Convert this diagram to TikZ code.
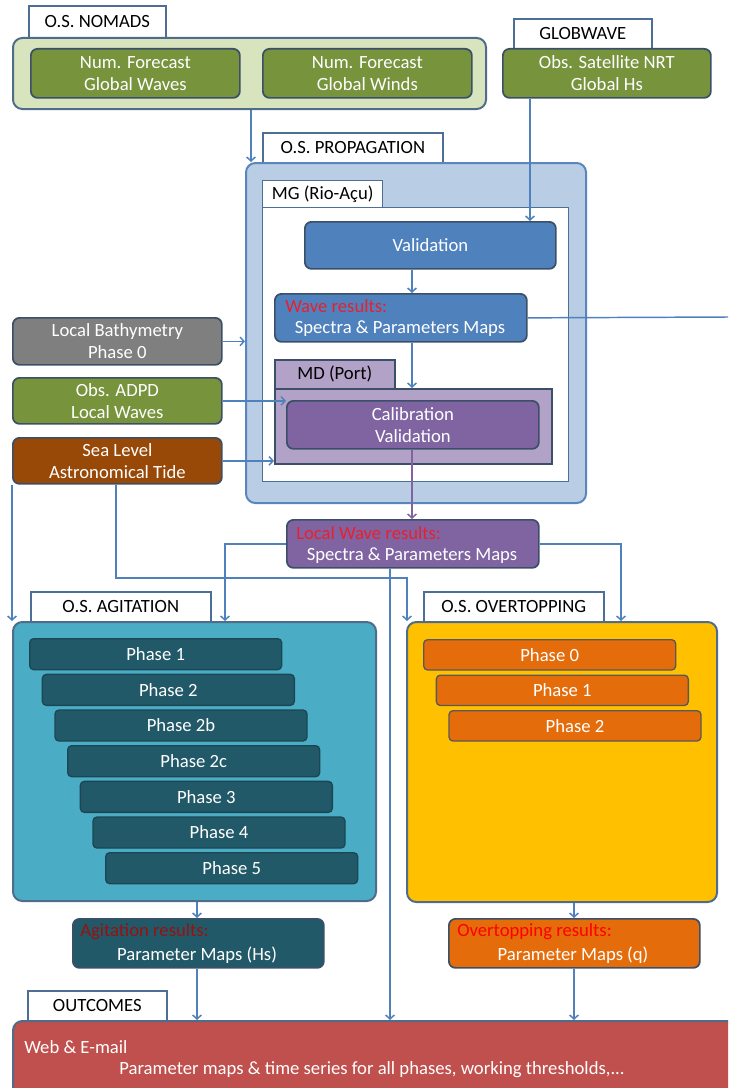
\documentclass[tikz,border=0pt]{standalone}
\usepackage{fontspec}
\setmainfont{Carlito}
\usetikzlibrary{arrows.meta}

\definecolor{nomadsbg}{HTML}{D7E4BD}
\definecolor{olive}{HTML}{77933C}
\definecolor{propbg}{HTML}{B9CDE5}
\definecolor{valblue}{HTML}{4F81BD}
\definecolor{mdbg}{HTML}{B3A2C7}
\definecolor{calpurple}{HTML}{8064A2}
\definecolor{bathygray}{HTML}{7F7F7F}
\definecolor{seabrown}{HTML}{984807}
\definecolor{agbg}{HTML}{4BACC6}
\definecolor{agphase}{HTML}{215968}
\definecolor{ovbg}{HTML}{FFC000}
\definecolor{ovphase}{HTML}{E46C0A}
\definecolor{outred}{HTML}{C0504D}
\definecolor{tabline}{HTML}{4E6F95}
\definecolor{contline}{HTML}{4F6D8A}
\definecolor{propline}{HTML}{5A85BD}
\definecolor{boxline}{HTML}{3B5068}
\definecolor{connblue}{HTML}{4F81BD}
\definecolor{labred}{HTML}{E8202E}
\definecolor{labdark}{HTML}{9A1010}

\tikzset{
  tab/.style={draw=tabline, line width=1.2pt, fill=white, text=black, inner sep=0pt},
  cont/.style={draw=contline, line width=1.5pt, rounded corners=7pt, inner sep=0pt},
  blk/.style={draw=boxline, line width=1.3pt, rounded corners=5pt, text=white,
              align=center, inner sep=0pt},
  phase/.style={blk, rounded corners=3pt, line width=1pt},
  conn/.style={draw=connblue, line width=1.1pt, -{Straight Barb[length=3pt,width=6.5pt]}},
  plain/.style={draw=connblue, line width=1.1pt},
  txt/.style={inner sep=0pt},
}

% box from its top-left to its bottom-right corner (pixel grid)
\newcommand{\rbox}[7]{%
  \node[#2, anchor=north west, minimum width={(#5-#3)*0.75pt},
        minimum height={(#6-#4)*0.75pt}] (#1) at (#3,#4) {#7};}

\begin{document}
\begin{tikzpicture}[x=0.75pt, y=-0.75pt, font=\fontsize{14}{16.5}\selectfont]
\useasboundingbox (0,0) rectangle (728,1088);
\clip (0,0) rectangle (728,1088);

% column guides for the connectors
\coordinate (c12) at (12,0);
\coordinate (c116) at (116,0);
\coordinate (c197) at (197,0);
\coordinate (c225) at (225,0);
\coordinate (c251) at (251,0);
\coordinate (c390) at (390,0);
\coordinate (c412) at (412,0);
\coordinate (c530) at (530,0);
\coordinate (c574) at (574,0);
\coordinate (c621) at (621,0);
\coordinate (j1) at (407,578);
\coordinate (wrEdge) at (728,317);

% ---------- O.S. NOMADS ----------
\rbox{nomadsTab}{tab}{28}{5}{165}{37}{O.S. NOMADS}
\rbox{nomads}{cont, fill=nomadsbg}{12}{37}{485}{108}{}
\rbox{gwaves}{blk, fill=olive}{30}{48}{239}{97}{Num. Forecast\\Global Waves}
\rbox{gwinds}{blk, fill=olive}{262}{48}{471}{97}{Num. Forecast\\Global Winds}

% ---------- GLOBWAVE ----------
\rbox{globTab}{tab}{513}{18}{651}{48}{GLOBWAVE}
\rbox{sat}{blk, fill=olive}{502}{48}{710}{97}{Obs. Satellite NRT\\Global Hs}

% ---------- O.S. PROPAGATION ----------
\rbox{propTab}{tab}{262}{132}{442}{162}{O.S. PROPAGATION}
\rbox{prop}{cont, draw=propline, fill=propbg}{245}{162}{585}{502}{}
\rbox{mgTab}{tab, line width=1pt}{262}{180}{382}{207}{MG (Rio-Açu)}
\rbox{mg}{draw=tabline, line width=1pt, fill=white, inner sep=0pt}{262}{207}{568}{481}{}
\rbox{val}{blk, fill=valblue}{304}{221}{555}{268}{Validation}
\rbox{wr}{blk, fill=valblue}{274}{293}{526}{341}{}
\node[txt, text=labred, anchor=west] (wrLab) at (285,306) {Wave results:};
\node[txt, text=white] (wrTxt) at (400,329) {Spectra \& Parameters Maps};
\rbox{mdTab}{tab, fill=mdbg, draw=boxline}{274}{359}{394}{388}{MD (Port)}
\rbox{mdc}{draw=boxline, line width=1.2pt, fill=mdbg, inner sep=0pt}{274}{388}{551}{463}{}
\rbox{cal}{blk, fill=calpurple}{286}{400}{538}{448}{Calibration\\Validation}

% ---------- local inputs ----------
\rbox{bathy}{blk, fill=bathygray}{12}{317}{221}{364}{Local Bathymetry\\Phase 0}
\rbox{adpd}{blk, fill=olive}{12}{377}{221}{423}{Obs. ADPD\\Local Waves}
\rbox{sea}{blk, fill=seabrown}{12}{437}{221}{483}{Sea Level\\Astronomical Tide}

% ---------- local wave results ----------
\rbox{lwr}{blk, fill=calpurple}{286}{519}{538}{567}{}
\node[txt, text=labred, anchor=west] (lwrLab) at (296,533) {Local Wave results:};
\node[txt, text=white] (lwrTxt) at (412,556) {Spectra \& Parameters Maps};

% ---------- O.S. AGITATION ----------
\rbox{agTab}{tab}{30}{591}{210}{621}{O.S. AGITATION}
\rbox{agc}{cont, fill=agbg}{12}{621}{375}{900}{}
\foreach \i/\t in {0/Phase 1,1/Phase 2,2/Phase 2b,3/Phase 2c,4/Phase 3,5/Phase 4,6/Phase 5}{
  \node[phase, fill=agphase, draw=agphase!80!black, anchor=north west,
        minimum width=189pt, minimum height=23.25pt]
        (ag\i) at ({29+12.67*\i},{638+35.67*\i}) {\t};
}
\rbox{agres}{blk, fill=agphase}{72}{918}{323}{967}{}
\node[txt, text=labdark, anchor=west] (agLab) at (80,932) {Agitation results:};
\node[txt, text=white] (agTxt) at (197,955) {Parameter Maps (Hs)};

% ---------- O.S. OVERTOPPING ----------
\rbox{ovTab}{tab}{423}{591}{603}{621}{O.S. OVERTOPPING}
\rbox{ovc}{cont, fill=ovbg}{406}{621}{716}{901}{}
\foreach \i/\t in {0/Phase 0,1/Phase 1,2/Phase 2}{
  \node[phase, fill=ovphase, draw=black!65, anchor=north west,
        minimum width=189pt, minimum height=22.75pt]
        (ov\i) at ({423+12.67*\i},{639+35.5*\i}) {\t};
}
\rbox{ovres}{blk, fill=ovphase}{448}{918}{699}{967}{}
\node[txt, text=red, anchor=west] (ovLab) at (457,932) {Overtopping results:};
\node[txt, text=white] (ovTxt) at (573,955) {Parameter Maps (q)};

% ---------- OUTCOMES ----------
\rbox{outTab}{tab}{27}{990}{166}{1020}{OUTCOMES}
\rbox{out}{cont, fill=outred}{12}{1020}{760}{1110}{}
\node[txt, text=white, anchor=west] (outA) at (24,1047) {Web \& E-mail};
\node[txt, text=white] (outB) at (372,1070) {Parameter maps \& time series for all phases, working thresholds,...};

% ---------- connectors ----------
\draw[conn] (nomads.south -| c251) -- (prop.north -| c251);
\draw[conn] (sat.south -| c530) -- (val.north -| c530);
\draw[conn] (val.south -| c412) -- (wr.north -| c412);
\draw[conn] (wr.south -| c412) -- (mdc.north -| c412);
\draw[plain] (wr.east) -- (wrEdge);
\draw[conn] (bathy.east) -- (bathy.east -| prop.west);
\draw[conn] (adpd.east) -- (adpd.east -| cal.west);
\draw[conn] (sea.east) -- (sea.east -| mdc.west);
\draw[conn, draw=calpurple] (cal.south -| c412) -- (lwr.north -| c412);
\draw[conn] (sea.south -| c12) -- (agc.north -| c12);
\draw[conn] (sea.south -| c116) |- (j1) -- (ovc.north -| j1);
\draw[conn] (lwr.west) -| (agc.north -| c225);
\draw[conn] (lwr.east) -| (ovc.north -| c621);
\draw[conn] (lwr.south -| c390) -- (out.north -| c390);
\draw[conn] (agc.south -| c197) -- (agres.north -| c197);
\draw[conn] (agres.south -| c197) -- (out.north -| c197);
\draw[conn] (ovc.south -| c574) -- (ovres.north -| c574);
\draw[conn] (ovres.south -| c574) -- (out.north -| c574);
\end{tikzpicture}
\end{document}
